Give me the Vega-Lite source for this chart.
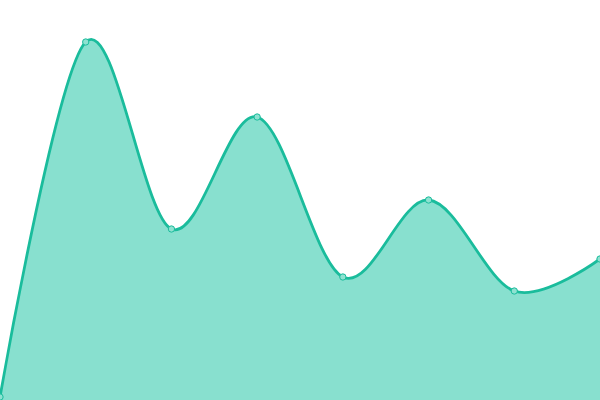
{
  "$schema": "https://vega.github.io/schema/vega-lite/v6.json",
  "width": 600,
  "height": 400,
  "padding": 0,
  "autosize": {"type": "none"},
  "data": {
    "values": [
      {"step": 0, "value": 0.75},
      {"step": 1, "value": 89.5},
      {"step": 2, "value": 42.75},
      {"step": 3, "value": 70.75},
      {"step": 4, "value": 30.75},
      {"step": 5, "value": 50},
      {"step": 6, "value": 27.25},
      {"step": 7, "value": 35.25}
    ]
  },
  "encoding": {
    "x": {"field": "step", "type": "quantitative", "axis": null, "scale": {"domain": [0, 7], "nice": false}},
    "y": {"field": "value", "type": "quantitative", "axis": null, "scale": {"domain": [0, 100], "nice": false}}
  },
  "layer": [
    {
      "mark": {"type": "area", "interpolate": "cardinal", "color": "#88e0cf", "opacity": 1}
    },
    {
      "mark": {"type": "line", "interpolate": "cardinal", "color": "#1abc9c", "strokeWidth": 2.8}
    },
    {
      "mark": {"type": "point", "filled": true, "fill": "#8ee2d1", "stroke": "#1abc9c", "strokeWidth": 1, "size": 40, "opacity": 1}
    }
  ],
  "config": {"view": {"stroke": null}}
}
